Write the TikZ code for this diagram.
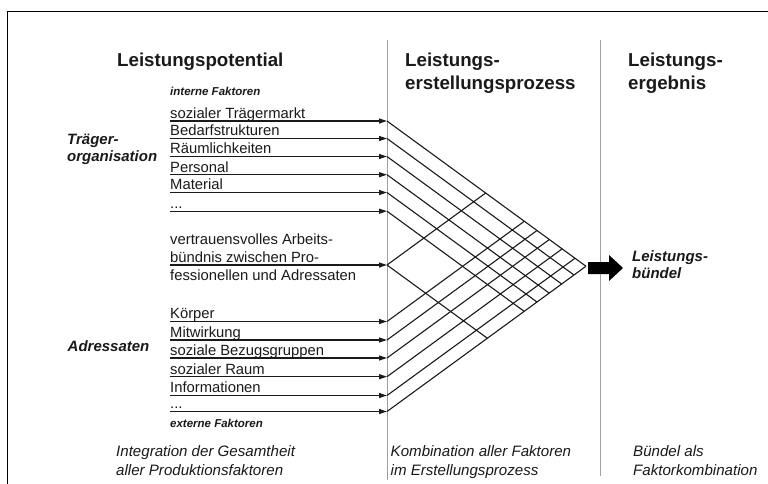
\documentclass[tikz,border=0pt]{standalone}
\usepackage{fontspec}
\setmainfont{Liberation Sans}
\usetikzlibrary{arrows.meta}
\definecolor{ink}{HTML}{1A1A1A}
\definecolor{sepgray}{HTML}{A0A0A0}
\newcommand{\mydots}{...}
\begin{document}
\begin{tikzpicture}[x=1pt,y=-1pt,
  lbl/.style={inner sep=0pt,anchor=base west,text=ink,font=\fontsize{14.8}{18.3}\selectfont},
  head/.style={inner sep=0pt,anchor=base west,text=ink,align=left,font=\fontsize{18.7}{22.3}\selectfont\bfseries},
  side/.style={inner sep=0pt,anchor=base west,text=ink,align=left,font=\fontsize{15}{17.4}\selectfont\bfseries\itshape},
  small/.style={inner sep=0pt,anchor=base west,text=ink,font=\fontsize{11.5}{13}\selectfont\bfseries\itshape},
  foot/.style={inner sep=0pt,anchor=base west,text=ink,align=left,font=\fontsize{15.1}{18.4}\selectfont\itshape},
  inarrow/.style={line width=1.2pt,draw=ink,-{Triangle[length=8pt,width=5pt]}},
  diag/.style={line width=1.1pt,draw=ink},
  sep/.style={line width=0.9pt,draw=sepgray},
  frameline/.style={line width=1.4pt,draw=black}]
\useasboundingbox (0,0) rectangle (768,484);
\fill[white] (0,0) rectangle (768,484);
% frame
\draw[frameline] (7.5,484) -- (7.5,11.7) -- (768,11.7);
% separators
\coordinate (s1t) at (387,40); \coordinate (s1b) at (387,480);
\coordinate (s2t) at (600,40); \coordinate (s2b) at (600,476);
\draw[sep] (s1t) -- (s1b);
\draw[sep] (s2t) -- (s2b);
% headings (multi-line nodes: base = baseline of last line)
\node[head] (h1) at (117,67) {Leistungspotential};
\node[head] (h2) at (405,89.3) {Leistungs-\\erstellungsprozess};
\node[head] (h3) at (628,89.3) {Leistungs-\\ergebnis};
\node[small] (intf) at (170,95.5) {interne Faktoren};
\node[small] (extf) at (170,427) {externe Faktoren};
\node[side] (traeger) at (67,161.4) {Träger-\\organisation};
\node[side] (adr) at (67.5,351) {Adressaten};
% input arrows and labels
\foreach \i/\y/\t in {1/121/sozialer Trägermarkt,2/138.5/Bedarfstrukturen,3/156.5/Räumlichkeiten,4/174.7/Personal,5/192.5/Material,6/211.2/\mydots,
                     8/321.5/Körper,9/340/Mitwirkung,10/358/soziale Bezugsgruppen,11/376.7/sozialer Raum,12/395.5/Informationen,13/411.5/\mydots}{
  \coordinate (L\i) at (170,\y);
  \coordinate (R\i) at (387,\y);
  \node[lbl] (t\i) at (170,\y-2.6) {\t};
  \draw[inarrow] (L\i) -- (R\i);
}
\coordinate (L7) at (170,265);
\coordinate (R7) at (387,265);
\draw[inarrow] (L7) -- (R7);
\node[lbl,align=left] (t7) at (170,280.8) {vertrauensvolles Arbeits-\\bündnis zwischen Pro-\\fessionellen und Adressaten};
% lattice: down-right lines end on the bottom up-right line
\foreach \i/\y in {1/121,2/138.5,3/156.5,4/174.7,5/192.5,6/211.2,7/265}{
  \coordinate (D\i) at ({387+(411.5-\y)/1.46},{(\y+411.5)/2});
  \draw[diag] (R\i) -- (D\i);
}
% up-right lines end on the top down-right line
\foreach \i/\y in {7/265,8/321.5,9/340,10/358,11/376.7,12/395.5,13/411.5}{
  \coordinate (U\i) at ({387+(\y-121)/1.46},{(\y+121)/2});
  \draw[diag] (R\i) -- (U\i);
}
% result arrow
\fill[black] (588,262) -- (609,262) -- (609,255) -- (623,268) -- (609,281) -- (609,274) -- (588,274) -- cycle;
\node[side] (buendel) at (632,278.5) {Leistungs-\\bündel};
% footers
\node[foot] (f1) at (116,475) {Integration der Gesamtheit\\aller Produktionsfaktoren};
\node[foot] (f2) at (390.5,475) {Kombination aller Faktoren\\im Erstellungsprozess};
\node[foot] (f3) at (633,475) {Bündel als\\Faktorkombination};
\end{tikzpicture}
\end{document}
